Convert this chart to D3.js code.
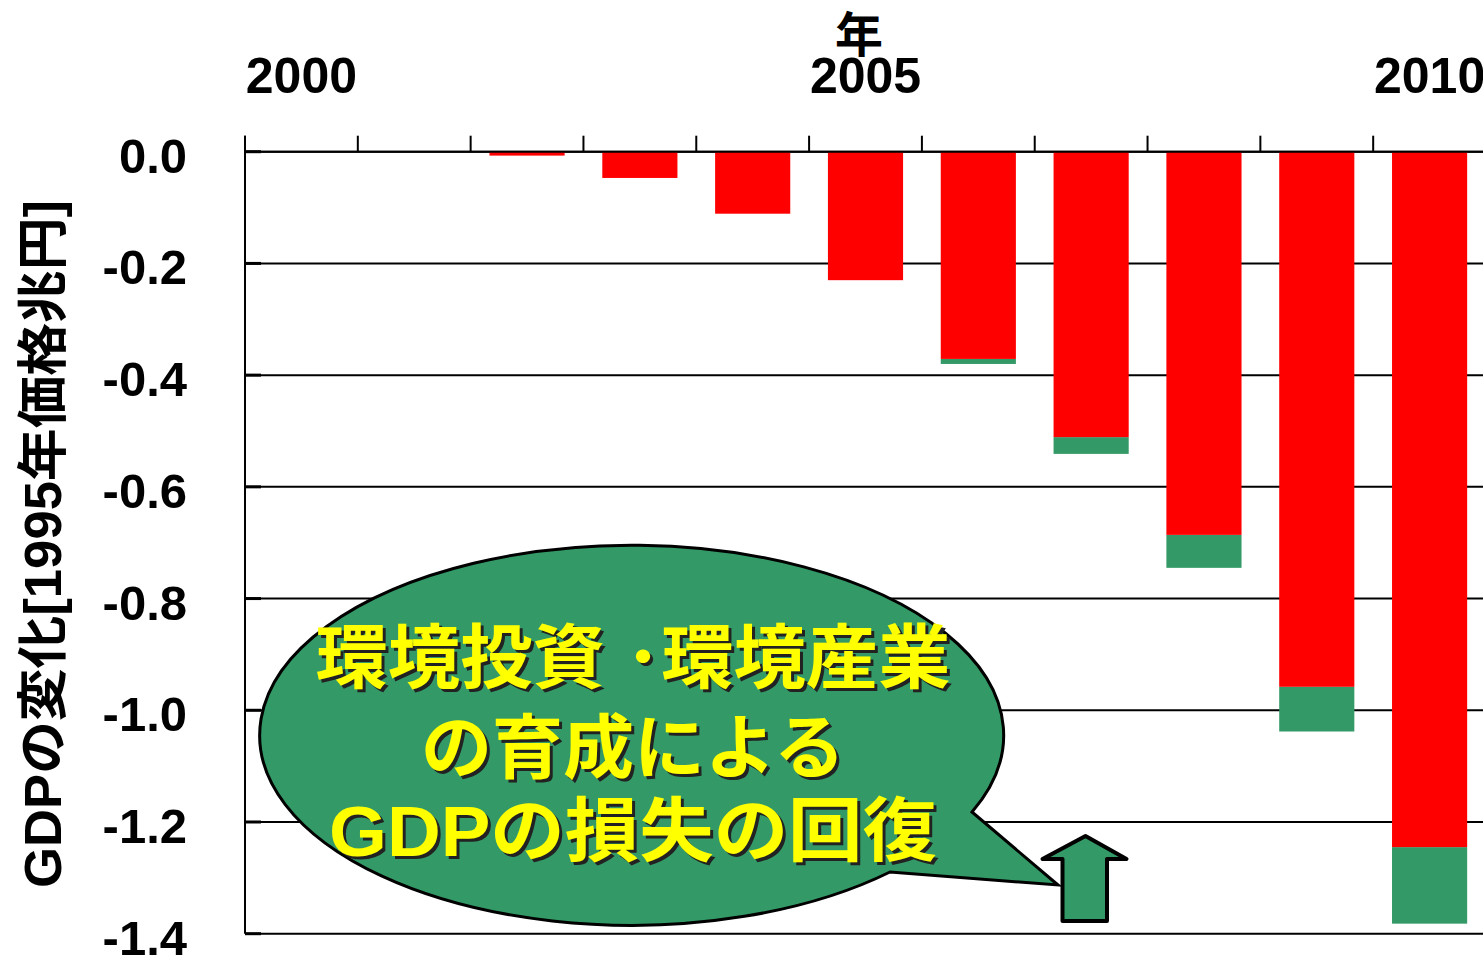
<!DOCTYPE html>
<html>
<head>
<meta charset="utf-8">
<script src="https://cdn.jsdelivr.net/npm/d3@7"></script>
<style>
  html, body { margin: 0; padding: 0; background: #fff; overflow: hidden; }
  svg { display: block; }
  text { font-family: "Liberation Sans", Arial, "Noto Sans CJK JP", sans-serif; font-weight: bold; }
</style>
</head>
<body>
<svg id="chart" width="1483" height="956"></svg>
<script>
// ---- data ----
const years = [2000, 2001, 2002, 2003, 2004, 2005, 2006, 2007, 2008, 2009, 2010];
const yearLabels = [2000, 2005, 2010];
// GDP loss after the recovery (red part)
const netLoss = [0, 0, -0.007, -0.047, -0.111, -0.230, -0.371, -0.511, -0.686, -0.958, -1.245];
// GDP loss without environmental investment (bottom of the green part)
const grossLoss = [0, 0, -0.007, -0.047, -0.111, -0.230, -0.380, -0.541, -0.745, -1.038, -1.382];
const yTicks = [0.0, -0.2, -0.4, -0.6, -0.8, -1.0, -1.2, -1.4];
const yTitle = "GDPの変化[1995年価格兆円]";
const xTitle = "年";
const calloutLines = ["環境投資 ･環境産業", "の育成による", "GDPの損失の回復"];

(function () {
// ---- layout ----
const svg = d3.select("#chart");
const pL = 245, pR = 1486, pT = 151.7, pB = 933.7;
const red = "#ff0000", green = "#339966";

const x = d3.scaleBand().domain(years).range([pL, pR]).paddingInner(0.334).paddingOuter(0.167);
const y = d3.scaleLinear().domain([0, -1.4]).range([pT, pB]);
const step = x.step();

// gridlines
svg.append("g").selectAll("line").data(yTicks).join("line")
  .attr("x1", pL).attr("x2", 1483)
  .attr("y1", d => y(d)).attr("y2", d => y(d))
  .attr("stroke", "#000").attr("stroke-width", 2);

// y axis line + short inner ticks
svg.append("line").attr("x1", pL).attr("x2", pL).attr("y1", pT - 16).attr("y2", pB)
  .attr("stroke", "#000").attr("stroke-width", 2);
svg.append("g").selectAll("line").data(yTicks).join("line")
  .attr("x1", pL).attr("x2", pL + 16)
  .attr("y1", d => y(d)).attr("y2", d => y(d))
  .attr("stroke", "#000").attr("stroke-width", 3);

// y tick labels
svg.append("g").selectAll("text").data(yTicks).join("text")
  .attr("x", 187).attr("y", d => y(d) + 21)
  .attr("text-anchor", "end").attr("font-size", 49)
  .text(d => d3.format(".1f")(d).replace("−", "-"));

// bars: green (recovered part) and red (net loss)
svg.append("g").selectAll("rect").data(years).join("rect")
  .attr("x", d => x(d)).attr("width", x.bandwidth())
  .attr("y", (d, i) => y(netLoss[i]))
  .attr("height", (d, i) => y(grossLoss[i]) - y(netLoss[i]))
  .attr("fill", green);
svg.append("g").selectAll("rect").data(years).join("rect")
  .attr("x", d => x(d)).attr("width", x.bandwidth())
  .attr("y", y(0))
  .attr("height", (d, i) => y(netLoss[i]) - y(0))
  .attr("fill", red);

// top axis
svg.append("line").attr("x1", pL).attr("x2", 1483).attr("y1", pT).attr("y2", pT)
  .attr("stroke", "#000").attr("stroke-width", 2);
svg.append("g").selectAll("line").data(years.concat([null])).join("line")
  .attr("x1", (d, i) => pL + i * step).attr("x2", (d, i) => pL + i * step)
  .attr("y1", pT).attr("y2", pT - 16)
  .attr("stroke", "#000").attr("stroke-width", 2);
svg.append("g").selectAll("text").data(yearLabels).join("text")
  .attr("x", d => x(d) + x.bandwidth() / 2).attr("y", 92.5)
  .attr("text-anchor", "middle").attr("font-size", 50)
  .text(d => d);

// x title
svg.append("text").attr("x", 859).attr("y", 52).attr("text-anchor", "middle")
  .attr("font-size", 48).style("font-family", "'Noto Sans CJK JP', sans-serif").text(xTitle);

// y title
svg.append("text").attr("transform", "translate(61,544) rotate(-90)")
  .attr("text-anchor", "middle").attr("font-size", 51)
  .attr("textLength", 688).attr("lengthAdjust", "spacingAndGlyphs")
  .text(yTitle);

// callout bubble
const rx = 372, ry = 190;
const A = [972, 812], B = [890, 872], tip = [1058, 885];
svg.append("path")
  .attr("d", `M${A[0]},${A[1]} A${rx},${ry} 0 1 0 ${B[0]},${B[1]} L${tip[0]},${tip[1]} Z`)
  .attr("fill", green).attr("stroke", "#000").attr("stroke-width", 3).attr("stroke-linejoin", "miter");

// up arrow
const arrow = [[1085.5, 836], [1126.5, 859], [1107, 859], [1107, 921], [1062.5, 921], [1062.5, 859], [1042.5, 859]];
svg.append("path").attr("d", d3.line()(arrow) + "Z")
  .attr("fill", green).attr("stroke", "#000").attr("stroke-width", 4).attr("stroke-linejoin", "round");

// callout text
const lines = [
  { t: calloutLines[0], y: 683, len: 635 },
  { t: calloutLines[1], y: 773, len: 424 },
  { t: calloutLines[2], y: 856, len: 608 }
];
const tg = svg.append("g").attr("font-size", 70).attr("text-anchor", "middle");
lines.forEach(l => {
  tg.append("text").attr("x", 633 + 3).attr("y", l.y + 3).attr("fill", "#222")
    .attr("textLength", l.len).attr("lengthAdjust", "spacingAndGlyphs").text(l.t);
  tg.append("text").attr("x", 633).attr("y", l.y).attr("fill", "#ffff00")
    .attr("textLength", l.len).attr("lengthAdjust", "spacingAndGlyphs").text(l.t);
});
})();
</script>
</body>
</html>
